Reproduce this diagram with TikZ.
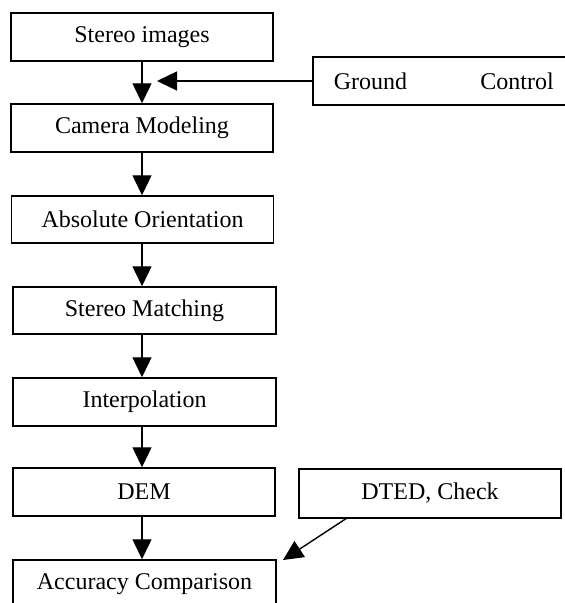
\documentclass[tikz,border=0pt]{standalone}
\usepackage{fontspec}
\setmainfont{Liberation Serif}
\usetikzlibrary{arrows.meta, positioning}

\begin{document}
\begin{tikzpicture}[x=1pt, y=-1pt,
  stage/.style={draw, line width=1.5pt, minimum width=262pt, minimum height=48pt,
    inner sep=0pt, font=\fontsize{24}{28}\selectfont},
  flow/.style={line width=1.4pt, -{Triangle[length=20pt, width=19pt]}}]
  \useasboundingbox (0,0) rectangle (565,603);
  \clip (0,0) rectangle (565,603);

  % Main processing chain
  \node[stage] (stereo) at (142, 37) {Stereo images};
  \node[stage] (camera) at (142, 128) {Camera Modeling};
  \node[stage, minimum height=47pt] (absolute) at (142.5, 219.5) {Absolute Orientation};
  \node[stage, minimum height=47pt, minimum width=263pt] (matching) at (144.5, 310.5) {Stereo Matching};
  \node[stage, minimum width=263pt] (interp) at (144.5, 402) {Interpolation};
  \node[stage] (dem) at (144, 492) {DEM};
  \node[stage, minimum width=263pt] (accuracy) at (144.5, 584) {Accuracy Comparison};

  % Side inputs (ground box runs off the right edge)
  \node[stage, anchor=west, text width=220pt, inner xsep=21pt] (ground) at (312, 81) {Ground\hfill Control};
  \node[stage, minimum height=49pt] (dted) at (430, 493.5) {DTED, Check};

  % Connectors
  \coordinate (spine) at (142, 0);
  \coordinate (gtip) at (157, 81);
  \coordinate (dtail) at (347, 518);
  \coordinate (atip) at (283, 560);

  \draw[flow] (spine |- stereo.south) -- (spine |- camera.north);
  \draw[flow] (spine |- camera.south) -- (spine |- absolute.north);
  \draw[flow] (spine |- absolute.south) -- (spine |- matching.north);
  \draw[flow] (spine |- matching.south) -- (spine |- interp.north);
  \draw[flow] (spine |- interp.south) -- (spine |- dem.north);
  \draw[flow] (spine |- dem.south) -- (spine |- accuracy.north);
  \draw[flow] (ground.west) -- (gtip);
  \draw[flow] (dtail) -- (atip);
\end{tikzpicture}
\end{document}
